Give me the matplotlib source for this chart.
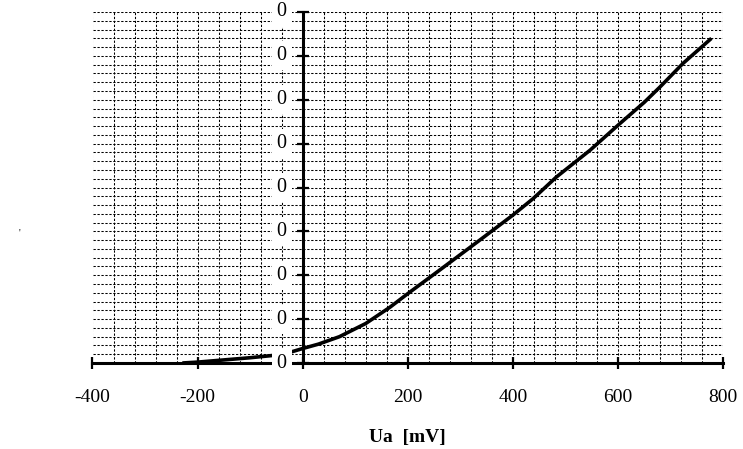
import matplotlib
matplotlib.use("Agg")
import matplotlib.pyplot as plt
from matplotlib.ticker import MultipleLocator, FixedLocator

plt.rcParams['font.family'] = ['Liberation Serif', 'DejaVu Serif']
plt.rcParams['axes.unicode_minus'] = False

# data (Ua in mV, response in arbitrary units)
ua_mv = [-229, -200, -150, -100, -50, -25, 0, 30, 70, 120, 166, 200, 261,
         337, 400, 439, 483, 547, 604, 650, 680, 724, 778]
resp = [0.0, 0.002, 0.007, 0.012, 0.018, 0.024, 0.033, 0.043, 0.060, 0.090,
        0.127, 0.158, 0.212, 0.280, 0.337, 0.375, 0.424, 0.485, 0.546, 0.594,
        0.629, 0.683, 0.740]

x_ticks = [-400, -200, 0, 200, 400, 600, 800]
y_ticks = [0.0, 0.1, 0.2, 0.3, 0.4, 0.5, 0.6, 0.7, 0.8]
y_tick_labels = ["0"] * len(y_ticks)
x_label = "Ua  [mV]"

W, H = 743, 449
fig = plt.figure(figsize=(W / 100, H / 100), dpi=100)
ax = fig.add_axes([92.5 / W, (H - 363) / H, (723 - 92.5) / W, (363 - 12) / H])

ax.plot(ua_mv, resp, color='black', lw=2.6, zorder=2, solid_capstyle='butt')

ax.set_xlim(-400, 800)
ax.set_ylim(0, 0.8)
ax.xaxis.set_major_locator(FixedLocator(x_ticks))
ax.xaxis.set_minor_locator(MultipleLocator(40))
ax.yaxis.set_major_locator(FixedLocator(y_ticks))
ax.yaxis.set_minor_locator(MultipleLocator(0.02))

ax.grid(which='both', color='black', lw=0.75, linestyle=(0, (2.2, 1.6)))

for s in ['top', 'right']:
    ax.spines[s].set_visible(False)
ax.spines['left'].set_position(('data', 0))
ax.spines['left'].set_linewidth(2.2)
ax.spines['bottom'].set_linewidth(2.2)

ax.tick_params(axis='both', which='major', direction='inout', length=9,
               width=1.6, color='black')
ax.tick_params(axis='both', which='minor', length=0)
ax.tick_params(axis='x', which='major', labelsize=14, pad=14)
ax.tick_params(axis='y', which='major', labelleft=False)
ax.set_xticklabels([str(v) for v in x_ticks])

# y tick labels (all shown as "0" in the original) with white boxes
for v, lab in zip(y_ticks, y_tick_labels):
    ax.text(-40, v, lab, ha='center', va='center', fontsize=14.5,
            zorder=5, bbox=dict(facecolor='white', edgecolor='none',
                                boxstyle='square,pad=0.25'))

ax.set_xlabel(x_label, fontsize=14, fontweight='bold', labelpad=17)
fig.text(19 / W, 1 - 233 / H, "'", fontsize=7, ha='center', va='center')

fig.savefig("out.png", dpi=100)
